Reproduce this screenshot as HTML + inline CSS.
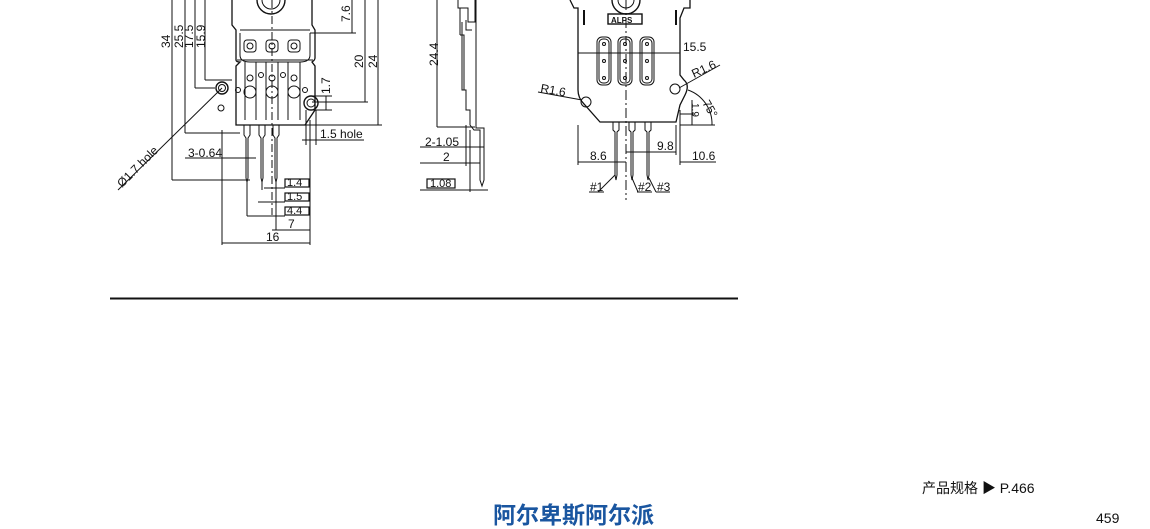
<!DOCTYPE html>
<html><head><meta charset="utf-8"><style>
html,body{margin:0;padding:0;background:#fff;width:1150px;height:529px;overflow:hidden}
svg{display:block}
text{font-family:"Liberation Sans","Noto Sans CJK SC",sans-serif;fill:#111}
</style></head><body>
<svg width="1150" height="529" viewBox="0 0 1150 529" xmlns="http://www.w3.org/2000/svg">
<g stroke="#111" stroke-width="1" fill="none">
<line x1="172" y1="0" x2="172" y2="180"/><line x1="172" y1="180" x2="250" y2="180"/>
<line x1="185" y1="0" x2="185" y2="133"/><line x1="185" y1="133" x2="240" y2="133"/>
<line x1="195" y1="0" x2="195" y2="88"/><line x1="195" y1="88" x2="215" y2="88"/>
<line x1="205" y1="0" x2="205" y2="80"/><line x1="205" y1="80" x2="232" y2="80"/>
<path d="M232 0 V25 L236 30 V60 Q236 62 240 62 L236 66 V125 H305 L315 110 V66 L312 62 Q315 60 315 58 V30 L312 25 V0" stroke-width="1.3"/>
<path d="M240 30 H310 M237 60 H313"/>
<path d="M240 33 V55 Q240 62 250 62 H300 Q310 62 310 55 V33"/>
<circle cx="271" cy="0" r="14" stroke-width="1.4"/>
<circle cx="271" cy="0" r="9"/>
<rect x="244" y="40" width="12" height="12" rx="3"/><circle cx="250" cy="46" r="3"/>
<rect x="266" y="40" width="12" height="12" rx="3"/><circle cx="272" cy="46" r="3"/>
<rect x="288" y="40" width="12" height="12" rx="3"/><circle cx="294" cy="46" r="3"/>
<path d="M245 62 V120 M256 62 V120 M266 62 V120 M278 62 V120 M288 62 V120 M300 62 V120"/>
<circle cx="250" cy="78" r="3"/><circle cx="272" cy="78" r="3"/><circle cx="294" cy="78" r="3"/>
<circle cx="261" cy="75" r="2.5"/><circle cx="283" cy="75" r="2.5"/>
<circle cx="250" cy="92" r="6"/><circle cx="272" cy="92" r="6"/><circle cx="294" cy="92" r="6"/>
<circle cx="222" cy="88" r="6" stroke-width="1.4"/><circle cx="222" cy="88" r="3.5"/>
<circle cx="311" cy="103" r="7" stroke-width="1.4"/><circle cx="311" cy="103" r="4"/>
<circle cx="221" cy="108" r="3"/><circle cx="238" cy="90" r="2.5"/><circle cx="305" cy="90" r="2.5"/>
<path d="M244 125 V135 L246 138 V178 L247 182 L248 178 V138 L250 135 V125"/>
<path d="M259 125 V135 L261 138 V178 L262 182 L263 178 V138 L265 135 V125"/>
<path d="M273 125 V135 L275 138 V178 L276 182 L277 178 V138 L279 135 V125"/>
<line x1="272" y1="0" x2="272" y2="215" stroke-dasharray="8 3 2 3"/>
<line x1="310" y1="33" x2="356" y2="33"/><line x1="352" y1="0" x2="352" y2="33"/>
<line x1="312" y1="102" x2="368" y2="102"/><line x1="365" y1="0" x2="365" y2="102"/>
<line x1="296" y1="125" x2="382" y2="125"/><line x1="378" y1="0" x2="378" y2="125"/>
<line x1="312" y1="96" x2="332" y2="96"/><line x1="312" y1="110" x2="332" y2="110"/><line x1="326" y1="96" x2="326" y2="110"/>
<line x1="302" y1="140" x2="318" y2="140"/><line x1="306" y1="110" x2="306" y2="145"/><line x1="316" y1="110" x2="316" y2="145"/>
<line x1="316" y1="140" x2="364" y2="140"/>
<line x1="118" y1="190" x2="222" y2="88"/>
<line x1="185" y1="158" x2="256" y2="158"/>
<line x1="222" y1="130" x2="222" y2="245"/><line x1="310" y1="120" x2="310" y2="245"/>
<line x1="247" y1="182" x2="247" y2="216"/><line x1="262" y1="182" x2="262" y2="190"/>
<line x1="276" y1="182" x2="276" y2="230"/>
<line x1="264" y1="188" x2="285" y2="188"/>
<line x1="258" y1="202" x2="285" y2="202"/>
<line x1="247" y1="216" x2="285" y2="216"/>
<line x1="272" y1="230" x2="310" y2="230"/>
<line x1="222" y1="243" x2="310" y2="243"/>
<rect x="285" y="179" width="24" height="8" stroke-width="1.2"/>
<rect x="285" y="193" width="24" height="8" stroke-width="1.2"/>
<rect x="285" y="207" width="24" height="8" stroke-width="1.2"/>

<line x1="437" y1="0" x2="437" y2="127"/><line x1="437" y1="127" x2="475" y2="127"/>
<path d="M458 0 V8 H468 V22 H475 V0"/>
<path d="M460 8 V35 M462 22 V90 H466 V110 H470 V125 L474 130 H480 V180 L482 186 L484 180 V128 H476 V0"/>
<path d="M466 20 V30 H472 M460 35 H464 V90"/>
<line x1="470" y1="130" x2="470" y2="192"/>
<line x1="420" y1="147" x2="484" y2="147"/>
<line x1="420" y1="163" x2="480" y2="163"/><line x1="466" y1="125" x2="466" y2="166"/>
<line x1="420" y1="190" x2="488" y2="190"/>
<rect x="427" y="179" width="28" height="9" stroke-width="1.2"/>

<path d="M570 0 L574 8 H578 V90 Q578 98 584 104 L600 122 H676 L680 105 L685 95 Q690 85 684 80 L680 75 V18 L684 8 H690 V0" stroke-width="1.3"/>
<path d="M584 10 V25 M676 10 V25" stroke-width="2"/>
<circle cx="626" cy="0" r="14" stroke-width="1.4"/><circle cx="626" cy="0" r="8"/>
<rect x="608" y="14" width="34" height="10" stroke-width="1.4"/>
<rect x="597" y="37" width="14" height="48" rx="5"/><rect x="599" y="39" width="10" height="44" rx="4"/>
<rect x="618" y="37" width="14" height="48" rx="5"/><rect x="620" y="39" width="10" height="44" rx="4"/>
<rect x="640" y="37" width="14" height="48" rx="5"/><rect x="642" y="39" width="10" height="44" rx="4"/>
<circle cx="604" cy="44" r="1.5"/><circle cx="604" cy="61" r="1.5"/><circle cx="604" cy="78" r="1.5"/>
<circle cx="625" cy="44" r="1.5"/><circle cx="625" cy="61" r="1.5"/><circle cx="625" cy="78" r="1.5"/>
<circle cx="647" cy="44" r="1.5"/><circle cx="647" cy="61" r="1.5"/><circle cx="647" cy="78" r="1.5"/>
<circle cx="586" cy="102" r="5"/><circle cx="675" cy="89" r="5"/>
<line x1="626" y1="0" x2="626" y2="200" stroke-dasharray="10 3 2 3"/>
<path d="M613 122 V130 L615 132 V175 L616 180 L617 175 V132 L619 130 V122 Z"/>
<path d="M629 122 V130 L631 132 V175 L632 180 L633 175 V132 L635 130 V122 Z"/>
<path d="M645 122 V130 L647 132 V175 L648 180 L649 175 V132 L651 130 V122 Z"/>
<line x1="578" y1="53" x2="680" y2="53"/>
<line x1="538" y1="92" x2="582" y2="100"/><line x1="720" y1="65" x2="679" y2="88"/>
<line x1="578" y1="125" x2="578" y2="165"/><line x1="680" y1="110" x2="680" y2="165"/>
<line x1="578" y1="162" x2="626" y2="162"/><line x1="626" y1="152" x2="676" y2="152"/><line x1="676" y1="125" x2="676" y2="155"/>
<line x1="680" y1="162" x2="716" y2="162"/>
<line x1="680" y1="114" x2="695" y2="114"/><line x1="680" y1="125" x2="715" y2="125"/><line x1="692" y1="100" x2="692" y2="125"/>
<path d="M688 90 A36 36 0 0 1 712 125"/>
<line x1="598" y1="192" x2="615" y2="175"/><line x1="638" y1="192" x2="632" y2="178"/><line x1="656" y1="192" x2="649" y2="178"/>
<line x1="589" y1="192" x2="604" y2="192"/><line x1="637" y1="192" x2="652" y2="192"/><line x1="656" y1="192" x2="670" y2="192"/>
</g>
<g font-size="12">
<text transform="translate(170,48) rotate(-90)">34</text>
<text transform="translate(183,48) rotate(-90)">25.5</text>
<text transform="translate(193,48) rotate(-90)">17.5</text>
<text transform="translate(205,48) rotate(-90)">15.9</text>
<text transform="translate(350,22) rotate(-90)">7.6</text>
<text transform="translate(363,68) rotate(-90)">20</text>
<text transform="translate(377,68) rotate(-90)">24</text>
<text transform="translate(330,94) rotate(-90)">1.7</text>
<text x="320" y="138">1.5 hole</text>
<text transform="translate(122,188) rotate(-45)">Ø1.7 hole</text>
<text x="188" y="157">3-0.64</text>
<text x="287" y="186" font-size="11">1.4</text>
<text x="287" y="200" font-size="11">1.5</text>
<text x="287" y="214" font-size="11">4.4</text>
<text x="288" y="228">7</text>
<text x="266" y="241">16</text>
<text transform="translate(438,66) rotate(-90)">24.4</text>
<text x="425" y="146">2-1.05</text>
<text x="443" y="161">2</text>
<text x="430" y="187" font-size="11">1.08</text>
<text x="611" y="23" font-size="8" font-weight="bold">ALPS</text>
<text x="683" y="51">15.5</text>
<text transform="translate(540,92) rotate(10)">R1.6</text>
<text transform="translate(694,78) rotate(-25)">R1.6</text>
<text transform="translate(702,103) rotate(60)">75°</text>
<text transform="translate(692,103) rotate(90)" font-size="10">1.9</text>
<text x="590" y="160">8.6</text>
<text x="657" y="150">9.8</text>
<text x="692" y="160">10.6</text>
<text x="590" y="191">#1</text>
<text x="638" y="191">#2</text>
<text x="657" y="191">#3</text>
<text x="922" y="493" font-size="14">产品规格 ▶ P.466</text>
<text x="1096" y="523" font-size="14">459</text>
<text x="493" y="523" font-size="23" font-weight="bold" style="fill:#1a56a0">阿尔卑斯阿尔派</text>
</g>
<line x1="110" y1="298.5" x2="738" y2="298.5" stroke="#111" stroke-width="2"/>
</svg>
</body></html>
